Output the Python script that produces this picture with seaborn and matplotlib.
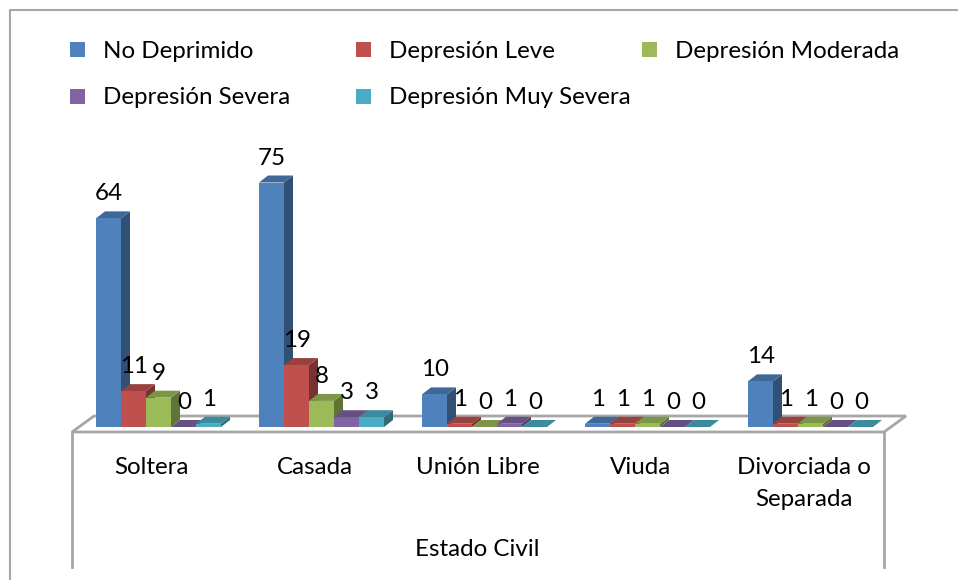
import matplotlib
matplotlib.use('Agg')
import matplotlib.pyplot as plt
import pandas as pd
import seaborn as sns
from matplotlib.colors import to_rgb
from matplotlib.lines import Line2D
from matplotlib.patches import Polygon, Rectangle

estados = ['Soltera', 'Casada', 'Unión Libre', 'Viuda', 'Divorciada o\nSeparada']
series = ['No Deprimido', 'Depresión Leve', 'Depresión Moderada',
          'Depresión Severa', 'Depresión Muy Severa']
no_deprimido = [64, 75, 10, 1, 14]
leve = [11, 19, 1, 1, 1]
moderada = [9, 8, 0, 1, 1]
severa = [0, 3, 1, 0, 0]
muy_severa = [1, 3, 0, 0, 0]
colores = ['#4F81BD', '#C0504D', '#9BBB59', '#8064A2', '#4BACC6']

W, H = 958, 580
plt.rcParams['font.family'] = ['Lato', 'DejaVu Sans']
FS = 17.4

df = pd.DataFrame({'estado': estados, series[0]: no_deprimido, series[1]: leve,
                   series[2]: moderada, series[3]: severa, series[4]: muy_severa})
df = df.melt(id_vars='estado', var_name='serie', value_name='n')

fig = plt.figure(figsize=(W / 100, H / 100), dpi=100)
ax = fig.add_axes([0, 0, 1, 1])

sns.barplot(data=df, x='estado', y='n', hue='serie', order=estados, hue_order=series,
            palette=colores, saturation=1, width=0.767, gap=0, legend=False, ax=ax, zorder=3)

# pixel mapping: groups 163 px apart, 3.26 px per unit, baseline at y=427
ax.set_xlim(-158.5 / 163, (W - 158.5) / 163)
ax.set_ylim((427 - H) / 3.26, 427 / 3.26)
ax.axis('off')


def px(x, y):
    # pixel position from the top left to figure fraction
    return x / W, 1 - y / H


def oscuro(c, f):
    return tuple(v * f for v in to_rgb(c))


# fake 3d faces on each bar
dx, dy = 9 / 163, 7 / 3.26
for bar in ax.patches:
    x0, w = bar.get_x(), bar.get_width()
    h = bar.get_height()
    c = bar.get_facecolor()
    x1 = x0 + w
    ax.add_patch(Polygon([(x1, 0), (x1 + dx, dy), (x1 + dx, h + dy), (x1, h)],
                         fc=oscuro(c, 0.62), ec='none', zorder=2.9))
    ax.add_patch(Polygon([(x0, h), (x1, h), (x1 + dx, h + dy), (x0 + dx, h + dy)],
                         fc=oscuro(c, 0.8), ec='none', zorder=2.9))
    ax.text(x0 + w / 2 + 0.5 / 163, h + dy + 7 / 3.26, f'{h:.0f}', ha='center', va='bottom',
            fontsize=FS, color='black', zorder=5)

# floor and lower box
gris = '#A6A6A6'
floor = [px(72, 432), px(884, 432), px(906, 416), px(94, 416)]
fig.add_artist(Polygon(floor, closed=True, fc='white', ec=gris, lw=2,
                       transform=fig.transFigure, zorder=0.5))
for xp in (72, 884):
    fig.add_artist(Line2D(*zip(px(xp, 432), px(xp, 567)), color=gris, lw=2))
ax.set_zorder(1)
ax.patch.set_visible(False)

# outer frame, only top and left are in the crop
fig.add_artist(Line2D(*zip(px(10, 580), px(10, 10), px(958, 10)), color=gris, lw=1.5))

# category labels
for i, e in enumerate(estados):
    partes = e.split('\n')
    ax.text(i - 7 / 163, (427 - 467) / 3.26, partes[0], ha='center', va='center', fontsize=FS)
    if len(partes) > 1:
        ax.text(i - 7 / 163, (427 - 499) / 3.26, partes[1], ha='center', va='center', fontsize=FS)
fig.text(*px(477, 549), 'Estado Civil', ha='center', va='center', fontsize=FS)

# legend laid out by hand, columns are not even in the original
cols = [70, 356, 642]
rows = [50, 97]
for k, (s, c) in enumerate(zip(series, colores)):
    xp = cols[k % 3]
    yp = rows[k // 3]
    x, y = px(xp, yp + 7)
    fig.add_artist(Rectangle((x, y), 15 / W, 15 / H, fc=c, ec='none', transform=fig.transFigure))
    fig.text(*px(xp + 33, yp + 1), s, va='center', fontsize=FS)

fig.savefig('out.png', dpi=100)
